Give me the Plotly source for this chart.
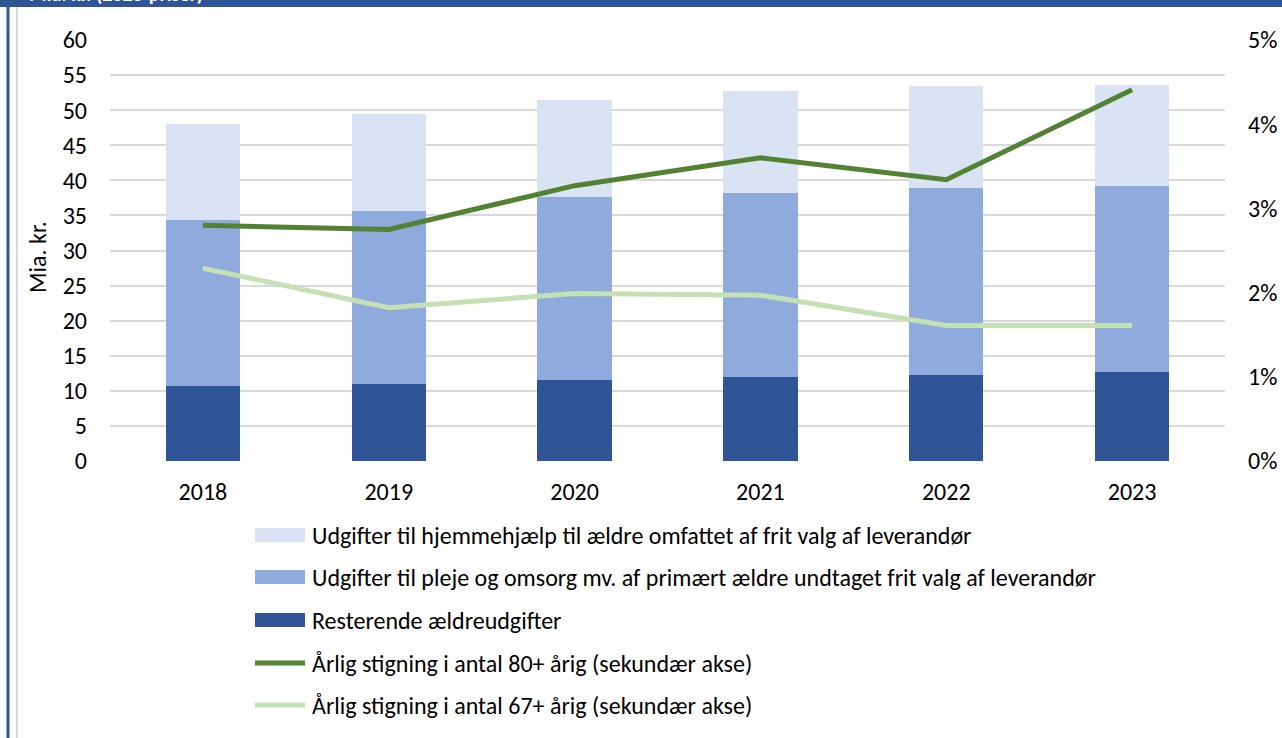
import plotly.graph_objects as go

years = ["2018", "2019", "2020", "2021", "2022", "2023"]
resterende = [10.7, 11.0, 11.5, 12.0, 12.2, 12.7]
pleje = [23.6, 24.6, 26.1, 26.2, 26.7, 26.5]
hjemmehjaelp = [13.7, 13.8, 13.8, 14.5, 14.6, 14.4]
stig80 = [0.0280, 0.0275, 0.0327, 0.0360, 0.0334, 0.0441]
stig67 = [0.0229, 0.0182, 0.0199, 0.0197, 0.0161, 0.0161]

names = [
    "Udgifter til hjemmehjælp til ældre omfattet af frit valg af leverandør",
    "Udgifter til pleje og omsorg mv. af primært ældre undtaget frit valg af leverandør",
    "Resterende ældreudgifter",
    "Årlig stigning i antal 80+ årig (sekundær akse)",
    "Årlig stigning i antal 67+ årig (sekundær akse)",
]
colors = ["#DAE3F3", "#8FAADC", "#2F5597", "#548235", "#C5E0B4"]
kinds = ["bar", "bar", "bar", "line", "line"]

FONT = "Carlito, Calibri, Lato, sans-serif"
FS = 24
W, H = 1282, 738
L, R, T, B = 110, 57, 40, 277
pw = W - L - R
ph = H - T - B

fig = go.Figure()
fig.add_trace(go.Bar(x=years, y=resterende, name=names[2], marker_color=colors[2],
                     marker_line_width=0))
fig.add_trace(go.Bar(x=years, y=pleje, name=names[1], marker_color=colors[1],
                     marker_line_width=0))
fig.add_trace(go.Bar(x=years, y=hjemmehjaelp, name=names[0], marker_color=colors[0],
                     marker_line_width=0))
fig.add_trace(go.Scatter(x=years, y=stig80, name=names[3], mode="lines", yaxis="y2",
                         line=dict(color=colors[3], width=5)))
fig.add_trace(go.Scatter(x=years, y=stig67, name=names[4], mode="lines", yaxis="y2",
                         line=dict(color=colors[4], width=5)))


def px_x(p):
    return (p - L) / pw


def px_y(p):
    return (H - B - p) / ph


shapes = [
    dict(type="rect", xref="paper", yref="paper", x0=px_x(-5), x1=px_x(W + 5),
         y0=px_y(7), y1=px_y(-5), fillcolor="#2F5597", line_width=0, layer="above"),
    dict(type="line", xref="paper", yref="paper", x0=px_x(8), x1=px_x(8),
         y0=px_y(0), y1=px_y(H + 5), line=dict(color="#2F5597", width=3)),
    dict(type="line", xref="paper", yref="paper", x0=px_x(17), x1=px_x(17),
         y0=px_y(7), y1=px_y(H + 5), line=dict(color="#D9D9D9", width=2)),
]
annotations = [
    dict(text="<b>Mia. kr. (2023-priser)</b>", xref="paper", yref="paper",
         x=px_x(205), xanchor="right", y=px_y(8), yanchor="bottom", showarrow=False,
         font=dict(color="white", size=20, family=FONT)),
    dict(text="Mia. kr.", xref="paper", yref="paper", x=px_x(37), xanchor="center",
         y=px_y(257), yanchor="middle", textangle=-90, showarrow=False,
         font=dict(size=FS, family=FONT, color="#000000")),
]

# legend drawn manually
rows = [535, 577, 620, 663, 705]
for name, col, kind, yc in zip(names, colors, kinds, rows):
    if kind == "bar":
        shapes.append(dict(type="rect", xref="paper", yref="paper",
                           x0=px_x(255), x1=px_x(305), y0=px_y(yc + 7), y1=px_y(yc - 7),
                           fillcolor=col, line_width=0))
    else:
        shapes.append(dict(type="line", xref="paper", yref="paper",
                           x0=px_x(255), x1=px_x(305), y0=px_y(yc), y1=px_y(yc),
                           line=dict(color=col, width=5)))
    annotations.append(dict(text=name, xref="paper", yref="paper", x=px_x(310),
                            xanchor="left", y=px_y(yc), yanchor="middle", showarrow=False,
                            font=dict(size=FS, family=FONT, color="#000000")))

fig.update_layout(
    width=W, height=H,
    margin=dict(l=L, r=R, t=T, b=B, autoexpand=False),
    paper_bgcolor="white", plot_bgcolor="white",
    barmode="stack", bargap=0.6,
    font=dict(family=FONT, size=FS, color="#000000"),
    showlegend=False,
    xaxis=dict(showgrid=False, showline=False, ticks="", tickfont=dict(size=FS),
               ticklabelstandoff=14, automargin=False),
    yaxis=dict(range=[0, 60], dtick=5, showgrid=True, gridcolor="#D9D9D9", gridwidth=2,
               zeroline=False, showline=False, ticks="", tickfont=dict(size=FS),
               ticklabelstandoff=22, automargin=False),
    yaxis2=dict(range=[0, 0.05], dtick=0.01, tickformat=".0%", overlaying="y", side="right",
                showgrid=False, zeroline=False, showline=False, ticks="",
                tickfont=dict(size=FS), ticklabelstandoff=22, automargin=False),
    shapes=shapes,
    annotations=annotations,
)

fig.write_html("out.html", config={"displayModeBar": False},
               post_script="document.body.style.margin='0';")
